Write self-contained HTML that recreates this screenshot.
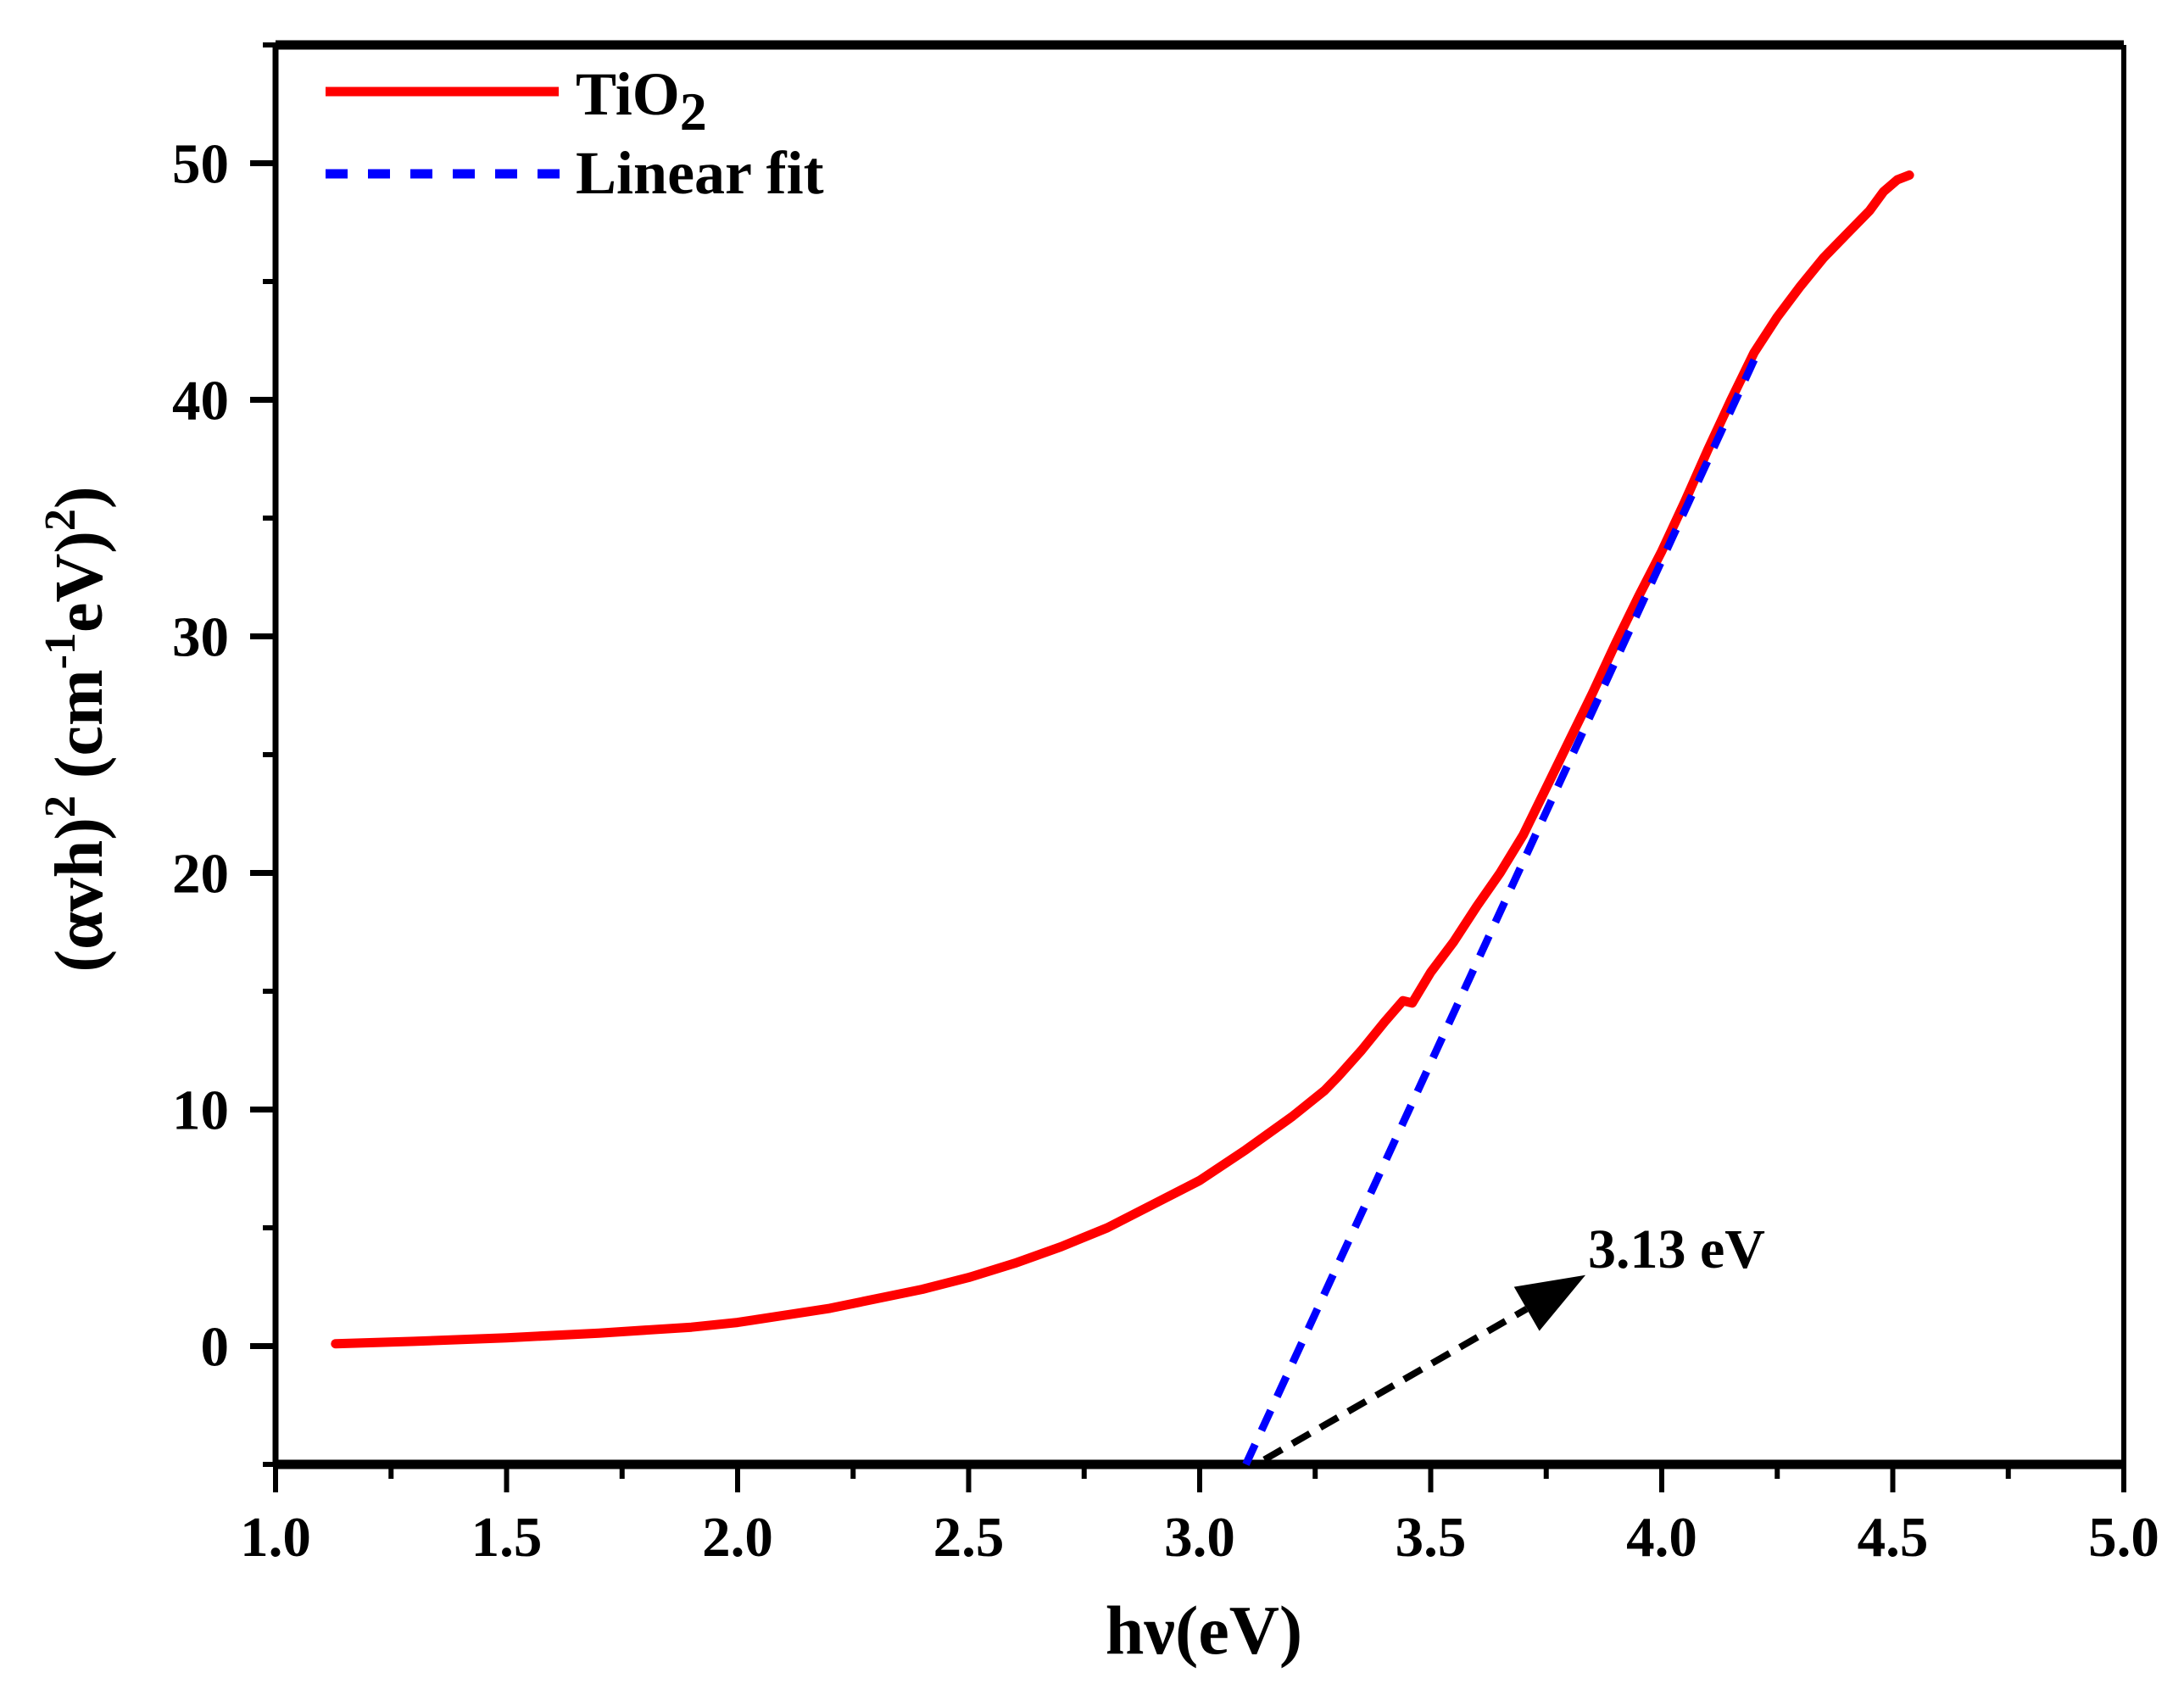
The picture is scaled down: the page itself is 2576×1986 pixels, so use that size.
<!DOCTYPE html>
<html><head><meta charset="utf-8"><style>
html,body{margin:0;padding:0;background:#fff;}
svg{display:block;font-family:"Liberation Serif",serif;font-weight:bold;}
</style></head><body>
<svg id="chart" width="2576" height="1986" viewBox="0 0 2576 1986" xmlns="http://www.w3.org/2000/svg"></svg>
<script>
const xTicks=[1.0,1.5,2.0,2.5,3.0,3.5,4.0,4.5,5.0];
const yTicks=[0,10,20,30,40,50];
const curveX=[1.13,1.3,1.5,1.7,1.9,2.0,2.2,2.4,2.5,2.6,2.7,2.8,2.9,3.0,3.1,3.2,3.27,3.3,3.35,3.4,3.44,3.46,3.5,3.55,3.6,3.65,3.7,3.75,3.8,3.85,3.9,3.95,4.0,4.05,4.1,4.15,4.2,4.25,4.3,4.35,4.4,4.45,4.48,4.51,4.536];
const curveY=[0.1,0.2,0.35,0.55,0.8,1.0,1.6,2.4,2.9,3.5,4.2,5.0,6.0,7.0,8.3,9.7,10.8,11.4,12.5,13.7,14.6,14.5,15.8,17.1,18.6,20.0,21.6,23.6,25.6,27.6,29.7,31.7,33.6,35.7,37.9,40.0,42.0,43.5,44.8,46.0,47.0,48.0,48.8,49.3,49.5];
const fitX=[3.1,4.205];
const fitY=[-5,41.9];
const arrowX=[3.14,3.835];
const arrowY=[-4.8,3.0];
const gapLabel="3.13 eV";

const L=325,R=2505,T=53,B=1727,xmin=1,xmax=5,ymin=-5,ymax=55;
const sx=v=>L+(v-xmin)/(xmax-xmin)*(R-L);
const sy=v=>B-(v-ymin)/(ymax-ymin)*(B-T);
const svg=document.getElementById('chart');
const NS='http://www.w3.org/2000/svg';
function mk(tag,attrs,parent){const e=document.createElementNS(NS,tag);for(const k in attrs)e.setAttribute(k,attrs[k]);(parent||svg).appendChild(e);return e;}

let e;
e=mk('line',{x1:L,y1:T,x2:R,y2:T,stroke:'#000','stroke-width':11});


e=mk('line',{x1:L,y1:B,x2:R,y2:B,stroke:'#000','stroke-width':11});


e=mk('line',{x1:L,y1:T,x2:L,y2:B,stroke:'#000','stroke-width':7});


e=mk('line',{x1:R,y1:T,x2:R,y2:B,stroke:'#000','stroke-width':6});



xTicks.forEach((v,i)=>{
  const x=sx(v);
  e=mk('line',{x1:x,y1:B,x2:x,y2:B+33,stroke:'#000','stroke-width':6});
  
  
  if(i<xTicks.length-1){
    const xm=sx(v+0.25);
    e=mk('line',{x1:xm,y1:B,x2:xm,y2:B+17,stroke:'#000','stroke-width':6});
    
    
  }
  e=mk('text',{x:x,y:B+108,'text-anchor':'middle','font-size':67});
  e.textContent=v.toFixed(1);
  
  
});
[-5].concat(yTicks.map(v=>v+5)).forEach(v=>{
  const y=sy(v);
  e=mk('line',{x1:L-15,y1:y,x2:L,y2:y,stroke:'#000','stroke-width':6});
  
  
});
yTicks.forEach(v=>{
  const y=sy(v);
  e=mk('line',{x1:L-30,y1:y,x2:L,y2:y,stroke:'#000','stroke-width':7});
  
  
  e=mk('text',{x:270,y:y+23,'text-anchor':'end','font-size':67});
  e.textContent=v;
  
  
});

e=mk('text',{x:sx(3.0)+5,y:1950,'text-anchor':'middle','font-size':82});
e.textContent='hν(eV)';


e=mk('text',{x:0,y:0,'text-anchor':'middle','font-size':80,transform:'translate(120,860) rotate(-90)'});
e.innerHTML='(αvh)<tspan dy="-32" font-size="52">2</tspan><tspan dy="32"> (cm</tspan><tspan dy="-32" font-size="52">-1</tspan><tspan dy="32">eV)</tspan><tspan dy="-32" font-size="52">2</tspan><tspan dy="32">)</tspan>';



let d='';
curveX.forEach((v,i)=>{d+=(i?'L':'M')+sx(v).toFixed(1)+','+sy(curveY[i]).toFixed(1);});
e=mk('path',{d:d,fill:'none',stroke:'#ff0000','stroke-width':11,'stroke-linejoin':'round','stroke-linecap':'round'});


e=mk('line',{x1:sx(fitX[0]),y1:sy(fitY[0]),x2:sx(fitX[1]),y2:sy(fitY[1]),stroke:'#0000ff','stroke-width':9,'stroke-dasharray':'26 18'});



const ax0=sx(arrowX[0]),ay0=sy(arrowY[0]),ax1=sx(arrowX[1]),ay1=sy(arrowY[1]);
const ang=Math.atan2(ay1-ay0,ax1-ax0),hl=80,hw=30;
const bx=ax1-hl*Math.cos(ang),by=ay1-hl*Math.sin(ang);
e=mk('line',{x1:ax0,y1:ay0,x2:bx,y2:by,stroke:'#000','stroke-width':8,'stroke-dasharray':'24 14'});


const px=-Math.sin(ang),py=Math.cos(ang);
e=mk('polygon',{points:`${ax1},${ay1} ${bx+hw*px},${by+hw*py} ${bx-hw*px},${by-hw*py}`,fill:'#000'});


e=mk('text',{x:1873,y:1495,'font-size':66});
e.textContent=gapLabel;



const lg=mk('g',{});


e=mk('line',{x1:384,y1:108,x2:659,y2:108,stroke:'#ff0000','stroke-width':11},lg);


e=mk('text',{x:679,y:135,'font-size':72},lg);
e.innerHTML='TiO<tspan dy="18" font-size="64">2</tspan>';


e=mk('line',{x1:384,y1:205,x2:668,y2:205,stroke:'#0000ff','stroke-width':11,'stroke-dasharray':'26 24'},lg);


e=mk('text',{x:679,y:228,'font-size':72},lg);
e.textContent='Linear fit';


</script>
</body></html>
